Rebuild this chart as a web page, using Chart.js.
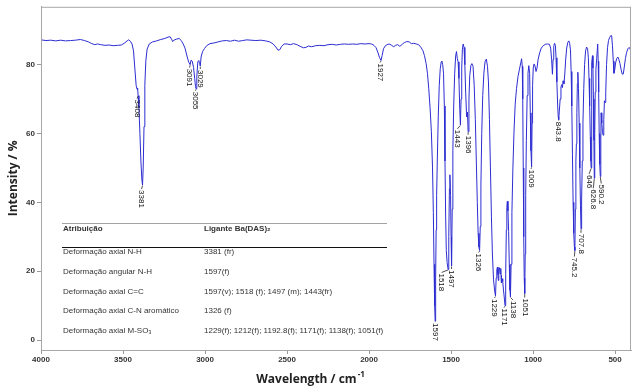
<!DOCTYPE html>
<html lang="pt">
<head>
  <meta charset="UTF-8" />
  <title>Espectro IV - Ba(DAS)2</title>
  <script src="https://cdn.jsdelivr.net/npm/chart.js"></script>
  <style>
    body { margin: 0; padding: 0; background: #fff; }
    #caixa { width: 633px; height: 390px; }
  </style>
</head>
<body>
  <div id="caixa"><canvas id="espectro"></canvas></div>

  <script>
    const numeroOnda = [
      4000, 3970, 3940, 3910, 3880, 3850, 3820, 3790, 3760, 3735,
      3710, 3690, 3672, 3655, 3635, 3610, 3585, 3560, 3535, 3510,
      3490, 3475, 3466, 3455, 3445, 3436, 3428, 3420, 3414, 3411,
      3408, 3403, 3397, 3391, 3385, 3381, 3377, 3372, 3367, 3361,
      3353, 3340, 3320, 3295, 3270, 3245, 3225, 3213, 3204, 3197,
      3190, 3175, 3158, 3145, 3133, 3122, 3110, 3100, 3091, 3085,
      3078, 3070, 3063, 3058, 3055, 3050, 3044, 3038, 3033, 3029,
      3024, 3015, 3003, 2990, 2970, 2945, 2920, 2895, 2870, 2845,
      2820, 2795, 2770, 2745, 2720, 2690, 2660, 2630, 2605, 2585,
      2568, 2555, 2545, 2533, 2518, 2500, 2480, 2460, 2440, 2420,
      2400, 2385, 2370, 2350, 2325, 2300, 2275, 2250, 2225, 2200,
      2175, 2150, 2125, 2100, 2075, 2050, 2025, 2000, 1985, 1970,
      1957, 1945, 1936, 1927, 1920, 1912, 1902, 1890, 1878, 1865,
      1850, 1838, 1825, 1812, 1798, 1785, 1770, 1755, 1742, 1728,
      1712, 1698, 1685, 1672, 1662, 1652, 1644, 1636, 1628, 1620,
      1613, 1608, 1604, 1600, 1597, 1594, 1591, 1588, 1584, 1578,
      1572, 1566, 1560, 1556, 1551, 1546, 1541, 1537, 1533, 1529,
      1524, 1518, 1514, 1510, 1507, 1503, 1500, 1497, 1493, 1489,
      1484, 1478, 1472, 1467, 1462, 1457, 1452, 1447, 1443, 1439,
      1435, 1431, 1426, 1421, 1416, 1411, 1406, 1403, 1400, 1396,
      1391, 1386, 1379, 1373, 1366, 1359, 1352, 1346, 1340, 1335,
      1330, 1326, 1322, 1318, 1313, 1307, 1300, 1293, 1285, 1278,
      1272, 1266, 1260, 1254, 1248, 1241, 1234, 1229, 1225, 1221,
      1217, 1214, 1212, 1209, 1205, 1201, 1197, 1195, 1192.8, 1189,
      1185, 1181, 1176, 1171, 1167, 1163, 1160, 1157, 1153, 1149,
      1145, 1141, 1138, 1134, 1129, 1123, 1116, 1109, 1101, 1092,
      1083, 1075, 1070, 1066, 1063, 1060, 1057, 1054, 1051, 1048,
      1045, 1041, 1036, 1031, 1026, 1021, 1017, 1013, 1009, 1006,
      1003, 999, 994, 988, 982, 976, 969, 960, 950, 938,
      925, 912, 900, 893, 887, 882, 878, 874, 869, 864,
      860, 855, 850, 846.5, 843.8, 840, 835, 830, 825, 821,
      817, 812, 807, 801, 795, 788, 782, 777, 772, 768,
      764, 760, 756, 752, 748, 745.2, 742, 739, 736, 733,
      730, 727, 723, 719, 715, 711, 707.8, 704, 700, 696,
      691, 686, 680, 674, 668, 663, 659, 655, 651, 648,
      646, 644, 641, 638, 635, 632, 629, 626.8, 624, 621,
      617, 612, 606, 603, 600, 597, 593.5, 590.2, 587, 585,
      581, 577, 573, 569, 565, 561, 557, 552, 546, 540,
      534, 527, 521, 516, 511, 507, 502, 497, 490, 483,
      477, 470, 463, 456, 450, 444, 437, 430, 422, 414,
      408, 403
    ];
    const intensidade = [
      87.2, 87.0, 87.1, 86.9, 87.1, 86.9, 87.0, 87.1, 87.3, 87.0,
      86.6, 86.1, 85.8, 86.0, 85.8, 85.6, 85.7, 85.5, 85.6, 85.7,
      86.3, 86.9, 87.2, 86.8, 86.0, 84.0, 79.0, 74.0, 72.8, 73.2,
      71.0, 67.5, 60.0, 52.0, 46.5, 45.0, 50.0, 62.0, 74.0, 81.0,
      84.5, 86.0, 86.6, 86.9, 87.3, 87.6, 88.0, 88.1, 87.4, 86.7,
      87.1, 87.4, 87.6, 87.0, 86.0, 84.8, 82.5, 80.8, 80.0, 81.3,
      81.0, 79.2, 76.0, 73.6, 73.0, 76.5, 80.8, 81.2, 80.3, 79.6,
      82.2, 83.8, 84.7, 85.5, 86.1, 86.3, 86.6, 86.9, 87.0, 86.8,
      87.1, 86.8, 87.0, 87.2, 87.1, 87.0, 87.1, 86.9, 86.6, 86.0,
      85.1, 84.2, 84.3, 85.3, 86.0, 86.0, 85.8, 86.1, 85.8, 85.3,
      84.9, 85.0, 85.4, 85.2, 85.5, 85.6, 85.5, 85.8, 85.9, 85.7,
      85.9, 86.0, 85.9, 86.0, 85.9, 86.1, 86.0, 86.1, 86.0, 85.6,
      84.9, 83.4, 82.0, 81.2, 82.7, 84.6, 85.4, 85.8, 86.0, 85.7,
      85.2, 85.6, 85.8, 85.3, 85.9, 86.4, 86.7, 86.6, 86.1, 86.2,
      86.0, 85.8, 85.1, 84.1, 82.6, 80.3, 77.5, 73.0, 67.5, 60.5,
      50.0, 37.0, 22.0, 10.0, 5.5, 18.0, 32.0, 42.0, 52.0, 65.0,
      74.0, 78.8, 80.8, 81.0, 80.0, 77.5, 68.0, 52.0, 36.0, 26.0,
      22.5, 20.5, 30.0, 44.0, 48.0, 42.0, 30.0, 21.5, 38.0, 55.0,
      68.0, 77.5, 82.5, 83.8, 81.8, 80.8, 76.0, 67.0, 62.5, 70.0,
      79.0, 84.5, 86.0, 85.0, 80.0, 72.0, 66.0, 64.8, 66.2, 60.5,
      70.0, 76.8, 79.8, 80.3, 79.5, 74.0, 64.0, 52.0, 40.0, 31.0,
      27.0, 26.0, 33.0, 45.0, 60.0, 71.0, 77.5, 80.8, 81.6, 79.5,
      75.0, 64.0, 50.0, 36.0, 25.0, 17.5, 14.2, 12.8, 18.0, 20.5,
      21.2, 19.0, 17.3, 20.5, 21.0, 19.2, 20.8, 18.8, 16.6, 17.8,
      17.0, 14.8, 12.5, 10.0, 19.0, 32.0, 38.5, 40.3, 37.5, 31.5,
      22.0, 14.5, 12.5, 22.0, 37.0, 50.0, 61.0, 68.5, 73.0, 76.5,
      78.7, 80.5, 81.7, 79.5, 70.0, 50.0, 30.0, 18.0, 13.5, 25.0,
      42.0, 58.0, 71.0, 77.5, 79.7, 77.5, 66.0, 55.0, 50.3, 63.0,
      74.0, 79.0, 80.2, 79.6, 78.0, 79.0, 81.6, 83.4, 84.8, 85.5,
      85.9, 86.0, 85.9, 84.8, 81.6, 77.2, 81.5, 85.3, 86.2, 85.6,
      82.0, 75.0, 68.0, 64.8, 64.0, 66.5, 70.0, 73.5, 74.2, 73.3,
      75.3, 74.4, 77.0, 81.6, 84.8, 86.5, 86.9, 86.2, 84.3, 78.0,
      68.0, 54.0, 40.0, 31.0, 27.0, 26.0, 38.0, 52.0, 57.0, 66.0,
      74.5, 77.8, 73.0, 63.0, 50.0, 39.0, 32.3, 41.0, 52.0, 63.0,
      73.0, 80.0, 84.0, 85.1, 84.7, 82.0, 76.0, 68.0, 59.0, 52.0,
      50.0, 65.0, 80.5, 82.6, 79.0, 70.0, 58.0, 47.0, 60.0, 72.0,
      78.5, 81.8, 86.0, 81.0, 72.0, 60.0, 51.0, 47.5, 58.0, 66.0,
      63.0, 60.5, 59.5, 64.0, 69.5, 69.0, 72.0, 80.0, 85.0, 87.0,
      87.8, 88.4, 88.4, 85.5, 81.0, 77.5, 78.5, 80.5, 81.8, 82.2,
      81.5, 80.3, 78.5, 77.2, 77.3, 79.3, 81.8, 83.5, 84.6, 85.0,
      84.5, 83.8
    ];

    // picos marcados
    const picos = [3408, 3381, 3091, 3055, 3029, 1927, 1597, 1518, 1497, 1443, 1396, 1326,
                   1229, 1171, 1138, 1051, 1009, 843.8, 745.2, 707.8, 646, 626.8, 590.2];
    const picosTexto = picos.map(p => String(p));
    // deslocamento do rotulo (dx, distancia abaixo do pico) em px
    const picosDx  = [-1, -1, -0.5, -0.5, 0, -1, 0, -6.5, 0, -3, 0, -1, -1, -1, 2.5, 0, -0.5, 0, -0.5, 0, -2, -1, 1];
    const picosGap = [3, 4, 3, 2, 3, 2, 1, 3, 3, 4, 3, 2, 2, 2, 3, 4, 2, 1, 6, 4, 6, 10, 7];

    const xTicks = [4000, 3500, 3000, 2500, 2000, 1500, 1000, 500];
    const yTicks = [0, 20, 40, 60, 80];

    const tabelaCabecalho = ['Atribuição', 'Ligante Ba(DAS)₂'];
    const tabelaAtribuicao = [
      'Deformação axial N-H',
      'Deformação angular N-H',
      'Deformação axial C=C',
      'Deformação axial C-N aromático',
      'Deformação axial M-SO₃'
    ];
    const tabelaLigante = [
      '3381 (fr)',
      '1597(f)',
      '1597(v); 1518 (f); 1497 (m); 1443(fr)',
      '1326 (f)',
      '1229(f); 1212(f); 1192.8(f); 1171(f); 1138(f); 1051(f)'
    ];

    const pontos = numeroOnda.map((x, i) => ({ x: x, y: intensidade[i] }));

    const extras = {
      id: 'extras',
      afterDraw(chart) {
        const ctx = chart.ctx;
        const a = chart.chartArea;
        const sx = chart.scales.x, sy = chart.scales.y;
        ctx.save();

        // moldura
        ctx.strokeStyle = '#a8a8a8';
        ctx.lineWidth = 1;
        ctx.strokeRect(a.left + 0.5, a.top + 0.5, a.right - a.left - 1, a.bottom - a.top);

        // rotulos dos picos
        ctx.fillStyle = '#111';
        ctx.strokeStyle = '#222';
        ctx.lineWidth = 0.8;
        ctx.font = '8px Arial';
        picos.forEach((p, i) => {
          const idx = numeroOnda.indexOf(p);
          const px = sx.getPixelForValue(p);
          const py = sy.getPixelForValue(intensidade[idx]);
          const tx = px + picosDx[i];
          const ty = py + picosGap[i];
          ctx.beginPath();
          ctx.moveTo(px, py + 0.5);
          ctx.lineTo(tx, ty);
          ctx.stroke();
          ctx.save();
          ctx.translate(tx, ty + 1);
          ctx.rotate(Math.PI / 2);
          ctx.textAlign = 'left';
          ctx.textBaseline = 'middle';
          ctx.fillText(picosTexto[i], 0, 0);
          ctx.restore();
        });

        // tabela
        const col1 = 63, col2 = 204, fim = 387;
        ctx.strokeStyle = '#8a8a8a';
        ctx.lineWidth = 0.8;
        ctx.beginPath();
        ctx.moveTo(62, 223.5); ctx.lineTo(fim, 223.5);
        ctx.stroke();
        ctx.strokeStyle = '#111';
        ctx.lineWidth = 1.2;
        ctx.beginPath();
        ctx.moveTo(62, 247.5); ctx.lineTo(fim, 247.5);
        ctx.stroke();

        ctx.fillStyle = '#333';
        ctx.textBaseline = 'middle';
        ctx.textAlign = 'left';
        ctx.font = 'bold 8px Arial';
        ctx.fillText(tabelaCabecalho[0], col1, 229);
        ctx.fillText(tabelaCabecalho[1], col2, 229);
        ctx.font = '8px Arial';
        const linhasY = [252, 272, 291.5, 311, 330.5];
        tabelaAtribuicao.forEach((t, i) => {
          ctx.fillText(t, col1, linhasY[i]);
          ctx.fillText(tabelaLigante[i], col2, linhasY[i]);
        });

        // titulo do eixo x
        const principal = 'Wavelength / cm';
        const sobrescrito = '-1';
        ctx.fillStyle = '#222';
        ctx.font = 'bold 12px "Open Sans"';
        const w1 = ctx.measureText(principal).width;
        ctx.font = 'bold 8px "Open Sans"';
        const w2 = ctx.measureText(sobrescrito).width;
        const x0 = 310 - (w1 + w2) / 2;
        ctx.textAlign = 'left';
        ctx.textBaseline = 'alphabetic';
        ctx.font = 'bold 12px "Open Sans"';
        ctx.fillText(principal, x0, 383);
        ctx.font = 'bold 8px "Open Sans"';
        ctx.fillText(sobrescrito, x0 + w1 + 1, 377);

        ctx.restore();
      }
    };

    new Chart(document.getElementById('espectro'), {
      type: 'line',
      data: {
        datasets: [{
          data: pontos,
          borderColor: 'rgb(45, 45, 210)',
          borderWidth: 1,
          pointRadius: 0,
          tension: 0,
          fill: false
        }]
      },
      options: {
        responsive: true,
        maintainAspectRatio: false,
        animation: false,
        layout: { padding: { top: 4, right: 2, left: 0, bottom: 0 } },
        plugins: {
          legend: { display: false },
          tooltip: { enabled: false }
        },
        scales: {
          x: {
            type: 'linear',
            reverse: true,
            min: 403,
            max: 4000,
            afterBuildTicks: s => { s.ticks = xTicks.map(v => ({ value: v })); },
            afterFit: s => { s.height = 40; },
            grid: { display: true, drawOnChartArea: false, tickLength: 4, color: '#999' },
            border: { display: true, color: '#a8a8a8' },
            ticks: {
              color: '#333',
              padding: 1,
              maxRotation: 0,
              font: { family: 'Arial', size: 8, weight: 'bold' },
              callback: v => String(v)
            }
          },
          y: {
            min: -2.9,
            max: 96.8,
            afterBuildTicks: s => { s.ticks = yTicks.map(v => ({ value: v })); },
            afterFit: s => { s.width = 41; },
            grid: { display: true, drawOnChartArea: false, tickLength: 4, color: '#999' },
            border: { display: true, color: '#a8a8a8' },
            title: {
              display: true,
              text: 'Intensity / %',
              color: '#222',
              padding: { top: 6, bottom: 0 },
              font: { family: 'Open Sans', size: 12, weight: 'bold' }
            },
            ticks: {
              color: '#333',
              padding: 2,
              font: { family: 'Arial', size: 8, weight: 'bold' },
              callback: v => String(v)
            }
          }
        }
      },
      plugins: [extras]
    });
  </script>
</body>
</html>
